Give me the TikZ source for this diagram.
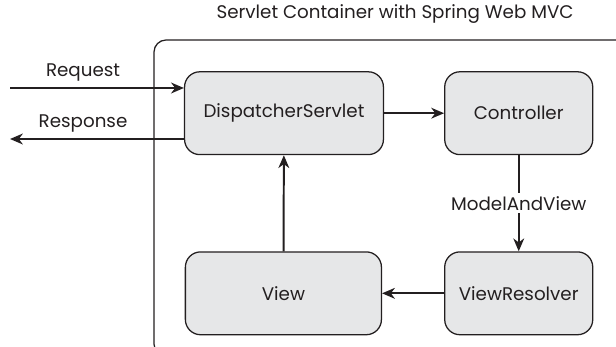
\documentclass[tikz,border=0pt]{standalone}
\usepackage{fontspec}
\setmainfont{Poppins}
\usetikzlibrary{positioning, arrows.meta}

\definecolor{boxgray}{HTML}{E6E7E8}
\definecolor{linegray}{HTML}{231F20}

\begin{document}
\begin{tikzpicture}[x=0.025cm, y=-0.025cm,
      block/.style={draw=linegray, line width=0.9pt, fill=boxgray,
        rounded corners=0.38cm, minimum height=2.07cm, align=center,
        font=\fontsize{13}{16}\selectfont, text=linegray},
      lbl/.style={font=\fontsize{13}{16}\selectfont, text=linegray},
      flow/.style={->, draw=linegray, line width=1.4pt},
      >={Stealth[length=3.2mm, width=2.7mm, inset=1mm]}, node distance=15mm]
    \clip (0,0) rectangle (616,347);
    % container
    \draw[linegray, line width=0.9pt, rounded corners=0.3cm]
      (154,40) rectangle (628,356);
    \node[lbl] (title) at (395,14) {Servlet Container with Spring Web MVC};
    % blocks
    \node[block, minimum width=4.97cm] (ds) at (284,113.2) {DispatcherServlet};
    \node[block, minimum width=3.7cm, right=of ds] (ctrl) {Controller};
    \node[block, minimum width=3.7cm, below=24mm of ctrl] (vr) {ViewResolver};
    \node[block, minimum width=4.9cm, left=15.5mm of vr] (view) {View};
    % outside world
    \coordinate (reqin) at (10,88);
    \coordinate (resout) at (10,139);
    \draw[flow] (reqin) -- (reqin -| ds.west)
      node[lbl, pos=0.42, above=1pt]{Request};
    \draw[flow] (resout -| ds.west) -- (resout)
      node[lbl, pos=0.58, above=1pt]{Response};
    % internal flow
    \draw[flow] (ds) -- (ctrl);
    \draw[flow] (ctrl) -- (vr)
      node[lbl, midway, fill=white, inner sep=2pt]{ModelAndView};
    \draw[flow] (vr) -- (view);
    \draw[flow] (view) -- (ds);
  \end{tikzpicture}
\end{document}
